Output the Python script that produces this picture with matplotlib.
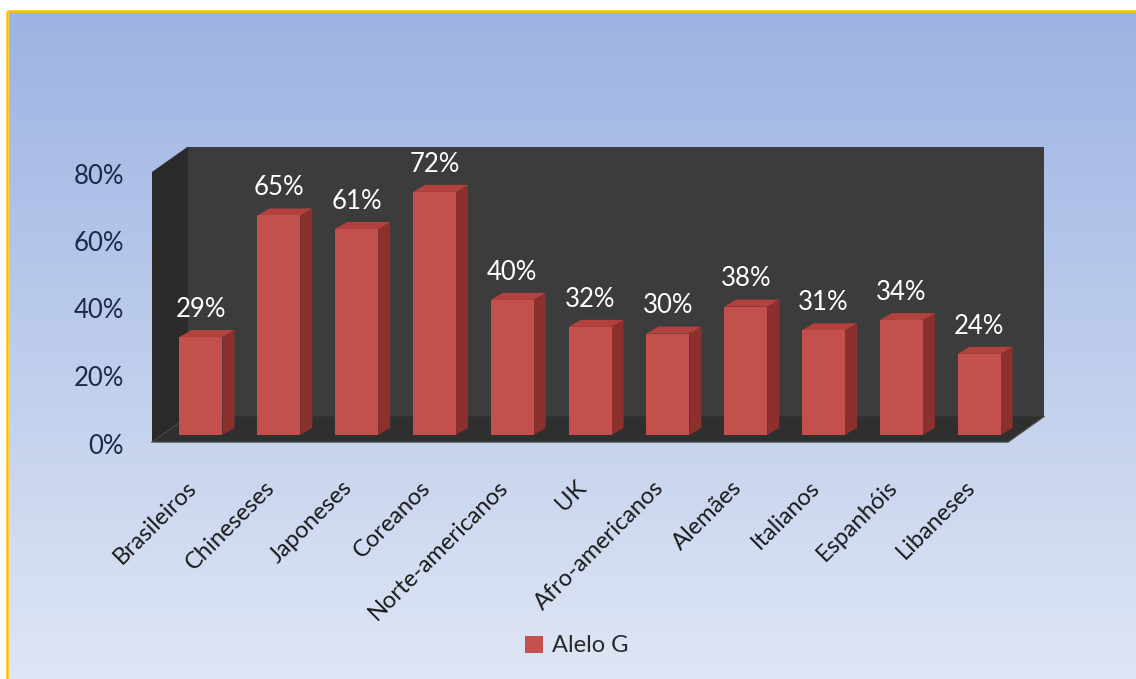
import numpy as np
import matplotlib
matplotlib.use('Agg')
import matplotlib.pyplot as plt
import matplotlib.transforms as mtrans
from matplotlib.patches import Polygon, Rectangle

# data
groups = ['Brasileiros', 'Chineseses', 'Japoneses', 'Coreanos', 'Norte-americanos',
          'UK', 'Afro-americanos', 'Alemães', 'Italianos', 'Espanhóis', 'Libaneses']
alelo_g = [0.29, 0.65, 0.61, 0.72, 0.40, 0.32, 0.30, 0.38, 0.31, 0.34, 0.24]
yticks = [0, 0.2, 0.4, 0.6, 0.8]
ytick_labels = ['0%', '20%', '40%', '60%', '80%']
series_name = 'Alelo G'

# fig config
W, H = 1136, 679
fig_font = 'Lato'
fsize_tick = 18.5
fsize_cat = 17
fsize_lab = 18.5
c_front, c_side, c_top = '#c4504d', '#8c302d', '#b3413e'
c_back, c_left, c_floor = '#3c3c3c', '#2a2a2a', '#2f2f2f'

plt.rcParams['font.family'] = [fig_font, 'DejaVu Sans']
fig = plt.figure(figsize=(W/100, H/100), dpi=100)

# background gradient + gold frame
bg = fig.add_axes([0, 0, 1, 1])
bg.set_xlim(0, W); bg.set_ylim(H, 0); bg.axis('off')
top_c = np.array([0x9c, 0xb3, 0xe3]) / 255.
bot_c = np.array([0xdf, 0xe6, 0xf5]) / 255.
t = np.linspace(0, 1, 256)[:, None, None]
grad = top_c * (1 - t) + bot_c * t
bg.imshow(np.repeat(grad, 2, axis=1), extent=(9, W, H, 12), aspect='auto', zorder=0)
bg.plot([7, 7], [11, H], color='#ffc000', lw=1.8, solid_capstyle='butt')
bg.plot([7, W], [11, 11], color='#ffc000', lw=1.8, solid_capstyle='butt')

# front plane of the 3d box
x0, x1, yb, yt = 152, 1008, 442, 172
ax = fig.add_axes([x0/W, (H-yb)/H, (x1-x0)/W, (yb-yt)/H])
ax.patch.set_alpha(0)
n = len(groups)
ax.set_xlim(-0.5, n-0.5)
ax.set_ylim(0, 0.8)
for s in ax.spines.values():
    s.set_visible(False)

# depth vector in data units (36px right, 25.5px up)
px_x = (x1-x0) / n
px_y = (yb-yt) / 0.8
Dx, Dy = 36/px_x, 25.5/px_y

back = Rectangle((-0.5+Dx, Dy), n, 0.8, fc=c_back, ec='none', clip_on=False, zorder=1)
left = Polygon([(-0.5, 0), (-0.5, 0.8), (-0.5+Dx, 0.8+Dy), (-0.5+Dx, Dy)],
               fc=c_left, ec='none', clip_on=False, zorder=1)
floor = Polygon([(-0.5, 0), (n-0.5, 0), (n-0.5+Dx, Dy), (-0.5+Dx, Dy)],
                fc=c_floor, ec='none', clip_on=False, zorder=1)
for p in (back, left, floor):
    ax.add_patch(p)
ax.plot([-0.5, n-0.5, n-0.5+Dx], [0, 0, Dy], color='#4a4a4a', lw=1, clip_on=False, zorder=1.5)

# bars
xs = np.arange(n)
sx, sy = 0.28*Dx, 0.28*Dy
bw = 43/px_x
bdx, bdy = 12/px_x, 7/px_y
ax.bar(xs+sx, alelo_g, width=bw, bottom=sy, color=c_front, zorder=3, clip_on=False,
       label=series_name)
for x, v in zip(xs, alelo_g):
    xl, xr = x+sx-bw/2, x+sx+bw/2
    top = v+sy
    ax.add_patch(Polygon([(xr, sy), (xr, top), (xr+bdx, top+bdy), (xr+bdx, sy+bdy)],
                         fc=c_side, ec='none', zorder=2.5, clip_on=False))
    ax.add_patch(Polygon([(xl, top), (xr, top), (xr+bdx, top+bdy), (xl+bdx, top+bdy)],
                         fc=c_top, ec='none', zorder=2.5, clip_on=False))
    ax.annotate('%d%%' % round(v*100), (x+sx, top+bdy), xytext=(0, 15),
                textcoords='offset points', ha='center', va='center',
                color='white', fontsize=fsize_lab, zorder=4)

ax.set_yticks(yticks, ytick_labels)
ax.set_xticks(xs, groups)
ax.tick_params(axis='y', length=0, pad=20, labelsize=fsize_tick, labelcolor='#1c2a48')
ax.tick_params(axis='x', length=0, pad=25, labelsize=fsize_cat, labelcolor='#1a1a1a')
yshift = mtrans.ScaledTranslation(0, -4/100, fig.dpi_scale_trans)
for lab in ax.get_yticklabels():
    lab.set_va('center')
    lab.set_transform(lab.get_transform() + yshift)
shift = mtrans.ScaledTranslation(-5/100, 0, fig.dpi_scale_trans)
for lab in ax.get_xticklabels():
    lab.set_rotation(45)
    lab.set_ha('right')
    lab.set_rotation_mode('anchor')
    lab.set_transform(lab.get_transform() + shift)

fig.legend(loc='center', bbox_to_anchor=(577/W, 1-646/H), frameon=False,
           fontsize=fsize_cat, handlelength=0.75, handleheight=0.7, handletextpad=0.4,
           labelcolor='#2a2a2a')

plt.savefig('out.png', dpi=100)
